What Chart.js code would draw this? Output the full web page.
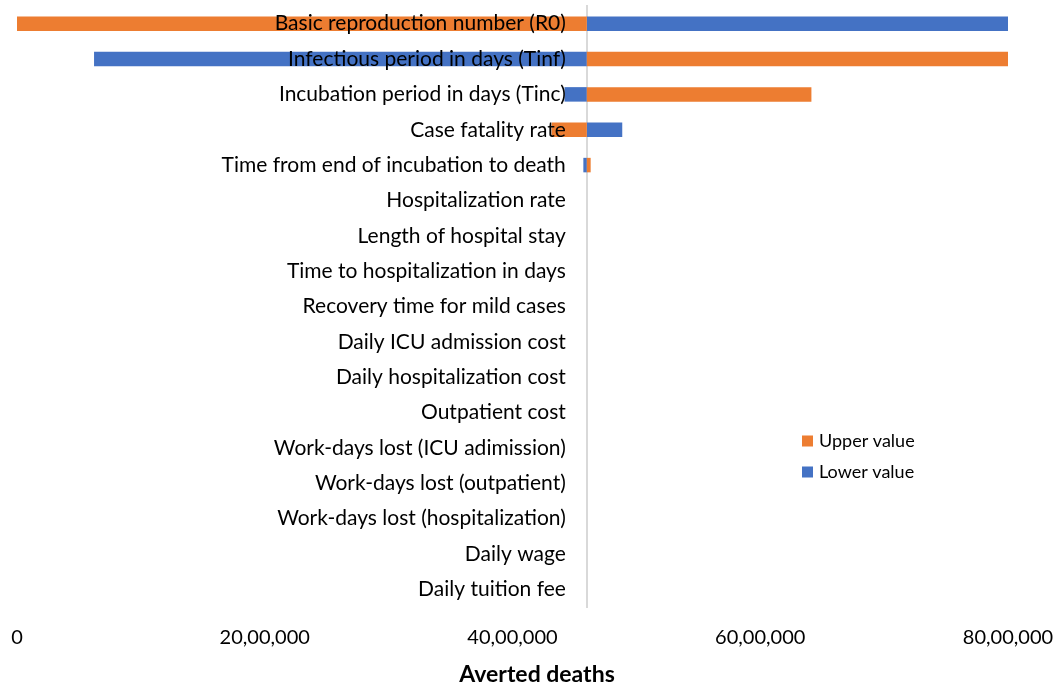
<!DOCTYPE html>
<html>
<head>
<meta charset="utf-8">
<title>Averted deaths - tornado</title>
<script src="https://cdn.jsdelivr.net/npm/chart.js@4"></script>
<style>
  html, body { margin: 0; padding: 0; background: #fff; }
  #wrap { width: 1057px; height: 686px; position: relative; }
</style>
</head>
<body>
<div id="wrap"><canvas id="myChart"></canvas></div>
<script>
// Parameters, top to bottom
const categories = [
    'Basic reproduction number (R0)',
    'Infectious period in days (Tinf)',
    'Incubation period in days (Tinc)',
    'Case fatality rate',
    'Time from end of incubation to death',
    'Hospitalization rate',
    'Length of hospital stay',
    'Time to hospitalization in days',
    'Recovery time for mild cases',
    'Daily ICU admission cost',
    'Daily hospitalization cost',
    'Outpatient cost',
    'Work-days lost (ICU adimission)',
    'Work-days lost (outpatient)',
    'Work-days lost (hospitalization)',
    'Daily wage',
    'Daily tuition fee'
];

// Base case result (where the bars start)
const baseValue = 4600000;

// Result with each parameter at its upper / lower value
const upperValues = [0, 8016000, 6413000, 4316000, 4631000, 4600000, 4600000, 4600000, 4600000,
    4600000, 4600000, 4600000, 4600000, 4600000, 4600000, 4600000, 4600000];
const lowerValues = [8016000, 622000, 4420000, 4886000, 4572000, 4600000, 4600000, 4600000, 4600000,
    4600000, 4600000, 4600000, 4600000, 4600000, 4600000, 4600000, 4600000];

const xTicks = [0, 2000000, 4000000, 6000000, 8000000];
const xTitle = 'Averted deaths';

// indian style grouping, 20,00,000
function formatIndian(n) {
    const s = String(Math.round(n));
    if (s.length <= 3) return s;
    let head = s.slice(0, -3);
    const tail = s.slice(-3);
    head = head.replace(/\B(?=(\d{2})+(?!\d))/g, ',');
    return head + ',' + tail;
}

// Category names sit right-aligned against the base line
const categoryLabels = {
    id: 'categoryLabels',
    afterDatasetsDraw(chart) {
        const { ctx, scales: { x, y } } = chart;
        const right = x.getPixelForValue(baseValue) - 21;
        ctx.save();
        ctx.font = '21px Lato';
        ctx.fillStyle = '#000';
        ctx.textAlign = 'right';
        ctx.textBaseline = 'middle';
        categories.forEach((c, i) => ctx.fillText(c, right, y.getPixelForValue(i)));
        ctx.restore();
    }
};

// Small legend inside the plot + the axis title (excel centers it on the whole plot)
const innerLegend = {
    id: 'innerLegend',
    afterDraw(chart) {
        const ctx = chart.ctx;
        const x0 = 802, y0 = 441, step = 31;
        ctx.save();
        ctx.font = '18px Lato';
        ctx.textBaseline = 'middle';
        ctx.textAlign = 'left';
        chart.data.datasets.forEach((ds, i) => {
            const yy = y0 + i * step;
            ctx.fillStyle = ds.backgroundColor;
            ctx.fillRect(x0, yy - 5.5, 11, 11);
            ctx.fillStyle = '#000';
            ctx.fillText(ds.label, x0 + 17, yy);
        });

        ctx.font = 'bold 23px Lato';
        ctx.textAlign = 'center';
        ctx.textBaseline = 'alphabetic';
        ctx.fillText(xTitle, (chart.chartArea.left + chart.width) / 2, chart.height - 4);
        ctx.restore();
    }
};

const ctx = document.getElementById('myChart').getContext('2d');
new Chart(ctx, {
    type: 'bar',
    data: {
        labels: categories,
        datasets: [{
            label: 'Upper value',
            data: upperValues.map(v => [baseValue, v]),
            backgroundColor: '#ED7D31',
            borderWidth: 0,
            grouped: false
        }, {
            label: 'Lower value',
            data: lowerValues.map(v => [baseValue, v]),
            backgroundColor: '#4472C4',
            borderWidth: 0,
            grouped: false
        }]
    },
    options: {
        indexAxis: 'y',
        responsive: true,
        maintainAspectRatio: false,
        animation: false,
        layout: {
            padding: { left: 17, right: 49, top: 6, bottom: 0 }
        },
        datasets: {
            bar: { categoryPercentage: 1, barPercentage: 0.41 }
        },
        plugins: {
            legend: { display: false },
            tooltip: { enabled: false }
        },
        scales: {
            x: {
                min: 0,
                max: 8000000,
                afterBuildTicks: (scale) => { scale.ticks = xTicks.map(v => ({ value: v })); },
                afterFit: (scale) => {
                    // room for ticks + title, side padding left to layout
                    scale.height = 79;
                    scale.paddingLeft = 0;
                    scale.paddingRight = 0;
                },
                grid: { display: false, drawTicks: false },
                border: { display: false },
                ticks: {
                    padding: 19,
                    color: '#000',
                    font: { family: 'Lato', size: 20 },
                    maxRotation: 0,
                    callback: (v) => formatIndian(v)
                }
            },
            y: {
                position: { x: baseValue },
                afterFit: (scale) => { scale.width = 0; },
                grid: { display: false, drawTicks: false },
                border: { display: true, color: '#d9d9d9', width: 2 },
                ticks: { display: false }
            }
        }
    },
    plugins: [categoryLabels, innerLegend]
});
</script>
</body>
</html>
